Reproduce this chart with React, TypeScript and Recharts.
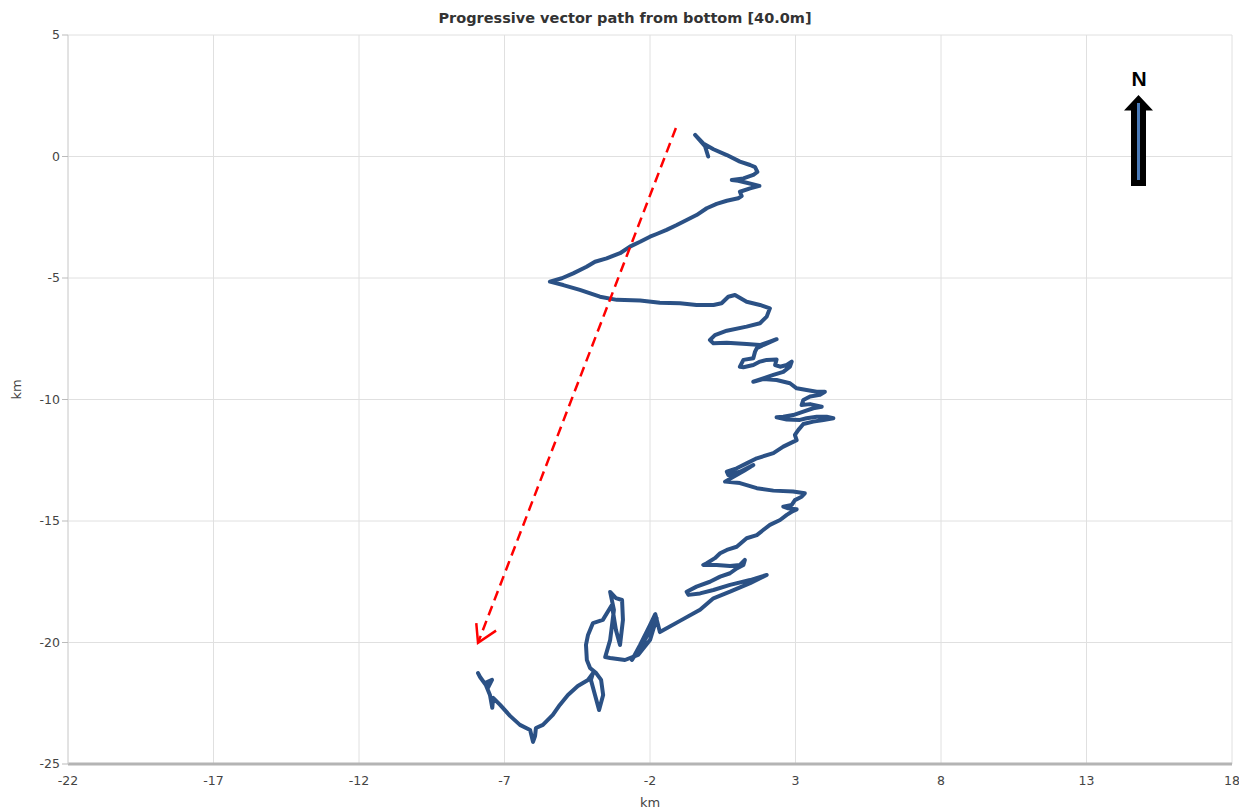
import { ScatterChart, Scatter, XAxis, YAxis, CartesianGrid } from "recharts";

const X_TICKS = [-22, -17, -12, -7, -2, 3, 8, 13, 18];
const Y_TICKS = [-25, -20, -15, -10, -5, 0, 5];

// progressive vector path, km east / km north, in drawing order
const PATH_X = [
  0, -0.11, -0.45, -0.17, 0.18, 0.64, 1.09, 1.44, 1.61, 1.69, 1.55, 1.21, 0.81, 1.03, 1.32, 1.76, 1.44, 1.09, 1.15, 1.03,
  0.64, 0.29, -0.05, -0.4, -0.74, -1.08, -1.43, -1.77, -2.0, -2.34, -2.69, -3.03, -3.49, -3.89, -4.18, -4.64, -5.03, -5.44, -4.98, -4.41,
  -3.72, -3.14, -2.34, -1.66, -0.97, -0.4, 0.18, 0.46, 0.69, 0.92, 1.32, 1.78, 2.12, 2.01, 1.78, 1.32, 0.64, 0.23, 0.06, 0.18,
  0.64, 1.32, 1.78, 2.12, 2.35, 1.89, 1.67, 1.61, 1.55, 1.21, 1.09, 1.21, 1.55, 1.78, 2.01, 2.35, 2.3, 2.47, 2.7, 2.87,
  2.81, 2.58, 2.24, 1.89, 1.55, 1.89, 2.35, 2.81, 3.04, 3.38, 3.73, 4.01, 3.84, 3.5, 3.27, 3.21, 3.5, 3.9, 3.61, 3.27,
  2.92, 2.58, 2.35, 2.7, 3.15, 3.38, 3.73, 4.07, 4.3, 3.96, 3.61, 3.27, 3.1, 2.98, 3.04, 2.58, 2.24, 1.67, 1.32, 0.98,
  0.64, 0.69, 1.09, 1.55, 1.26, 0.58, 1.09, 1.67, 2.24, 2.92, 3.32, 3.21, 2.98, 2.87, 2.58, 2.75, 3.04, 2.87, 2.7, 2.47,
  2.12, 1.89, 1.67, 1.32, 0.98, 0.64, 0.41, 0.23, -0.05, -0.17, 0.29, 0.75, 1.09, 1.26, 1.21, 0.98, 0.75, 0.41, 0.06, -0.4,
  -0.74, -0.68, -0.28, 0.18, 0.75, 1.44, 2.01, 1.44, 0.75, 0.18, -0.28, -0.97, -1.66, -1.82, -2.0, -2.34, -2.62, -2.18, -1.77, -2.0,
  -2.41, -2.86, -3.37, -3.54, -3.37, -3.24, -3.37, -3.17, -2.96, -2.93, -3.03, -3.17, -3.31, -3.62, -3.96, -4.13, -4.2, -4.17, -4.06, -3.85,
  -3.68, -3.61, -3.75, -3.89, -4.03, -3.96, -4.13, -4.48, -4.82, -5.1, -5.34, -5.68, -5.92, -5.95, -6.02, -6.12, -6.47, -6.81, -7.15, -7.39,
  -7.42, -7.5, -7.67, -7.43, -7.57, -7.84, -7.91,
];
const PATH_Y = [
  0, 0.43, 0.89, 0.54, 0.3, 0.06, -0.21, -0.35, -0.44, -0.63, -0.76, -0.9, -0.97, -1.0, -1.08, -1.21, -1.31, -1.45, -1.63, -1.72,
  -1.82, -1.95, -2.13, -2.41, -2.61, -2.82, -3.02, -3.19, -3.3, -3.51, -3.71, -3.98, -4.19, -4.33, -4.54, -4.81, -5.01, -5.15, -5.29, -5.49,
  -5.77, -5.9, -5.93, -6.02, -6.04, -6.11, -6.11, -6.04, -5.77, -5.7, -5.98, -6.11, -6.25, -6.59, -6.86, -7.0, -7.17, -7.35, -7.55, -7.69,
  -7.66, -7.72, -7.76, -7.62, -7.52, -7.76, -7.89, -8.03, -8.3, -8.37, -8.65, -8.67, -8.58, -8.44, -8.37, -8.35, -8.58, -8.65, -8.58, -8.44,
  -8.65, -8.86, -8.99, -9.13, -9.27, -9.16, -9.2, -9.33, -9.54, -9.61, -9.68, -9.68, -9.81, -9.88, -10.02, -10.23, -10.19, -10.3, -10.36, -10.5,
  -10.64, -10.71, -10.73, -10.82, -10.84, -10.77, -10.71, -10.71, -10.77, -10.84, -10.91, -11.01, -11.25, -11.46, -11.67, -11.94, -12.21, -12.42, -12.63, -12.83,
  -12.97, -13.11, -12.97, -12.7, -12.91, -13.38, -13.44, -13.65, -13.75, -13.79, -13.86, -14.0, -14.14, -14.34, -14.41, -14.48, -14.52, -14.62, -14.75, -14.96,
  -15.16, -15.37, -15.58, -15.71, -16.06, -16.19, -16.33, -16.53, -16.74, -16.81, -16.81, -16.85, -16.81, -16.6, -16.81, -16.95, -17.15, -17.29, -17.5, -17.7,
  -17.91, -18.04, -17.98, -17.84, -17.63, -17.43, -17.22, -17.56, -17.91, -18.18, -18.65, -19.11, -19.57, -18.83, -19.28, -20.1, -20.72, -19.9, -19.0, -19.9,
  -20.51, -20.72, -20.64, -20.6, -19.9, -18.66, -17.92, -18.17, -18.25, -19.07, -20.1, -19.49, -18.46, -19.07, -19.2, -19.69, -20.1, -20.72, -21.05, -21.26,
  -21.54, -22.16, -22.78, -22.16, -21.54, -21.26, -21.54, -21.79, -22.16, -22.57, -22.98, -23.39, -23.52, -23.85, -24.09, -23.6, -23.39, -23.02, -22.57, -22.28,
  -22.69, -22.16, -21.67, -21.54, -21.87, -21.42, -21.26,
];

// red dashed mean-direction arrow
const ARROW_X = [-1.11, -7.91];
const ARROW_Y = [1.17, -20.01];
const HEAD_X = [-7.97, -7.91, -7.29];
const HEAD_Y = [-19.2, -20.01, -19.51];

const zip = (xs: number[], ys: number[]) => xs.map((x, i) => ({ x, y: ys[i] }));

const pathData = zip(PATH_X, PATH_Y);
const arrowData = zip(ARROW_X, ARROW_Y);
const headData = zip(HEAD_X, HEAD_Y);

const noDot = () => <g />;

export default function App() {
  return (
    <div style={{ position: "absolute", left: 0, top: 0, width: 1239, height: 809, background: "#fff" }}>
      <div
        style={{
          position: "absolute",
          top: 10,
          left: 0,
          width: 1250,
          textAlign: "center",
          fontFamily: "DejaVu Sans",
          fontWeight: "bold",
          fontSize: 14.5,
          color: "#333",
        }}
      >
        Progressive vector path from bottom [40.0m]
      </div>
      <ScatterChart width={1239} height={809} margin={{ top: 35, right: 7, bottom: 0, left: 0 }}>
        <CartesianGrid stroke="#e0e0e0" strokeWidth={1} />
        <XAxis
          type="number"
          dataKey="x"
          domain={[-22, 18]}
          ticks={X_TICKS}
          interval={0}
          height={45}
          allowDataOverflow
          axisLine={{ stroke: "#b4b4b4", strokeWidth: 3 }}
          tickLine={false}
          tick={{ fontSize: 12.5, fill: "#444", fontFamily: "DejaVu Sans" }}
          tickMargin={6}
          label={{ value: "km", position: "insideBottom", offset: 0, dy: -2, fontSize: 13, fill: "#444", fontFamily: "DejaVu Sans" }}
        />
        <YAxis
          type="number"
          dataKey="y"
          domain={[-25, 5]}
          ticks={Y_TICKS}
          interval={0}
          width={68}
          allowDataOverflow
          axisLine={{ stroke: "#d6d6d6" }}
          tickLine={{ stroke: "#bbb" }}
          tickSize={6}
          tick={{ fontSize: 12.5, fill: "#444", fontFamily: "DejaVu Sans" }}
          label={{ value: "km", angle: -90, position: "insideLeft", offset: 16, fontSize: 13, fill: "#444", fontFamily: "DejaVu Sans" }}
        />
        <Scatter
          data={pathData}
          line={{ stroke: "#2b5185", strokeWidth: 4, strokeLinejoin: "round", strokeLinecap: "round" }}
          shape={noDot}
          isAnimationActive={false}
        />
        <Scatter
          data={arrowData}
          line={{ stroke: "#ff0000", strokeWidth: 2.5, strokeDasharray: "10 6" }}
          shape={noDot}
          isAnimationActive={false}
        />
        <Scatter
          data={headData}
          line={{ stroke: "#ff0000", strokeWidth: 2.5 }}
          shape={noDot}
          isAnimationActive={false}
        />
      </ScatterChart>
      <svg style={{ position: "absolute", left: 1110, top: 60, overflow: "visible" }} width={60} height={130}>
        <text x={29} y={26} textAnchor="middle" fontFamily="Liberation Sans" fontWeight="bold" fontSize={21} fill="#000">
          N
        </text>
        <polygon points="28.5,35 43,50.5 36,50.5 36,126 21,126 21,50.5 14,50.5" fill="#000" />
        <line x1={28.5} y1={43} x2={28.5} y2={120} stroke="#4a7ab8" strokeWidth={3} />
      </svg>
    </div>
  );
}
